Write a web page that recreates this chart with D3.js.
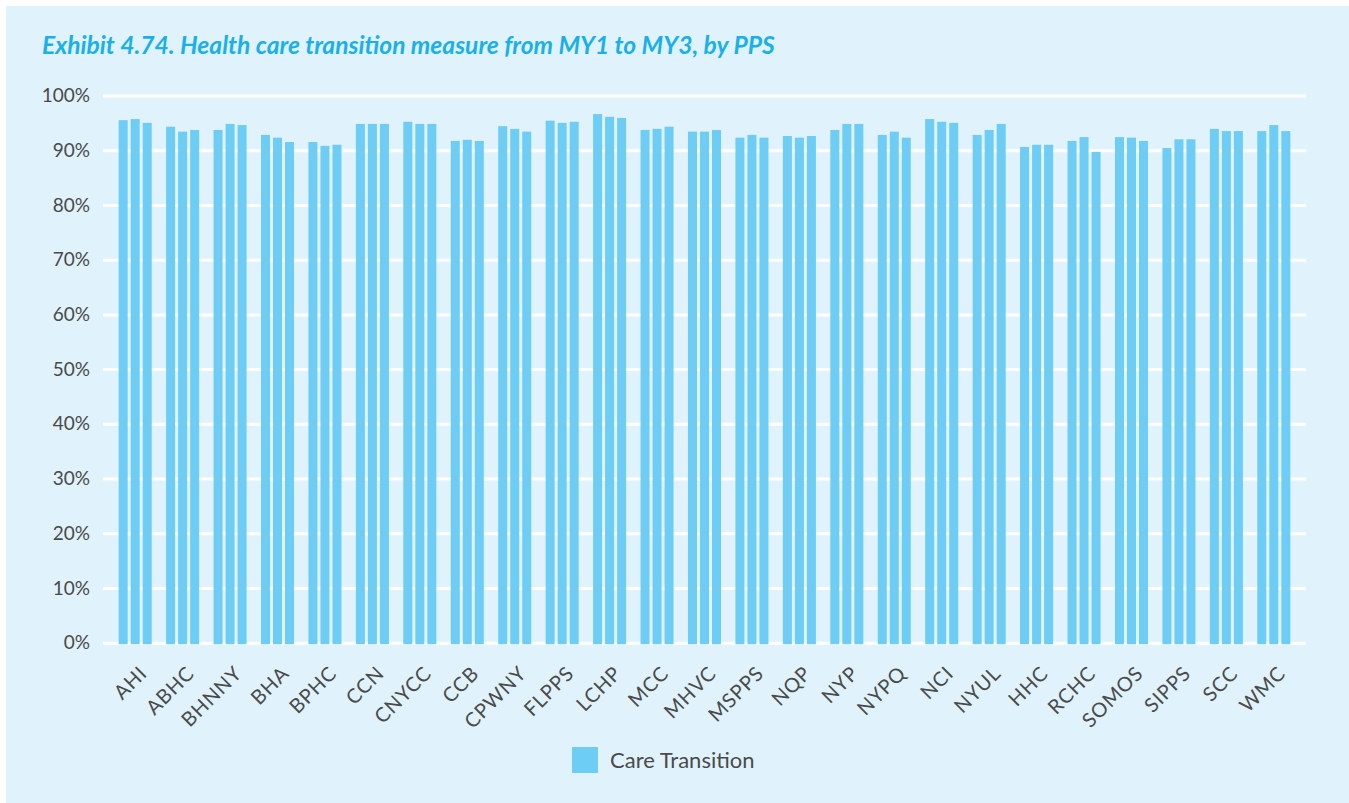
<!DOCTYPE html>
<html>
<head>
<meta charset="utf-8">
<script src="https://cdn.jsdelivr.net/npm/d3@7"></script>
<style>
  html, body { margin: 0; padding: 0; background: #ffffff; }
  svg { display: block; }
</style>
</head>
<body>
<svg id="chart" width="1349" height="803"></svg>
<script>
// PPS names along the x axis
const categories = ["AHI","ABHC","BHNNY","BHA","BPHC","CCN","CNYCC","CCB","CPWNY","FLPPS","LCHP","MCC","MHVC","MSPPS","NQP","NYP","NYPQ","NCI","NYUL","HHC","RCHC","SOMOS","SIPPS","SCC","WMC"];
// Care transition measure (%) for each measurement year
const my1 = [95.5,94.3,93.7,92.8,91.5,94.8,95.2,91.7,94.4,95.4,96.6,93.7,93.4,92.3,92.6,93.7,92.8,95.7,92.8,90.6,91.7,92.4,90.4,93.9,93.5];
const my2 = [95.7,93.4,94.8,92.3,90.8,94.8,94.8,91.9,93.9,95.0,96.1,93.9,93.4,92.8,92.3,94.8,93.4,95.2,93.7,91.0,92.4,92.3,92.0,93.5,94.6];
const my3 = [95.0,93.7,94.6,91.5,91.0,94.8,94.8,91.7,93.4,95.2,95.9,94.3,93.7,92.3,92.6,94.8,92.3,95.0,94.8,91.0,89.7,91.7,92.0,93.5,93.5];
const years = ["MY1","MY2","MY3"];
const yTicks = [0,10,20,30,40,50,60,70,80,90,100];
const titleText = "Exhibit 4.74. Health care transition measure from MY1 to MY3, by PPS";
const legendLabel = "Care Transition";

const series = [my1, my2, my3];
const rows = categories.map((c, i) => ({ name: c, values: years.map((y, k) => ({ year: y, value: series[k][i] })) }));

const BAR = "#6dcdf4";
const PANEL = "#e0f2fc";
const TEXT = "#4a4a4a";
const FONT = "Lato, 'Open Sans', sans-serif";

const svg = d3.select("#chart");

// light blue panel
svg.append("rect").attr("x", 6).attr("y", 6).attr("width", 1343).attr("height", 797).attr("fill", PANEL);

// title
const title = svg.append("text")
  .attr("x", 42).attr("y", 54)
  .attr("font-family", FONT).attr("font-weight", 700).attr("font-style", "italic")
  .attr("font-size", 20).attr("fill", "#1ab0e9")
  .text(titleText);
const tw = title.node().getComputedTextLength();
title.attr("font-size", 20 * 733 / tw);

const plot = { left: 103, right: 1306, top: 95.5, bottom: 642.7 };

const y = d3.scaleLinear().domain([0, 100]).range([plot.bottom, plot.top]);
const x0 = d3.scaleBand().domain(categories).range([plot.left, plot.right])
  .paddingInner(0.3034).paddingOuter(0.33);
const x1 = d3.scaleBand().domain(years).range([0, x0.bandwidth()]).paddingInner(0.25).paddingOuter(0);

// horizontal grid lines and percentage labels
const yAxis = d3.axisLeft(y).tickValues(yTicks).tickSize(-(plot.right - plot.left))
  .tickPadding(13).tickFormat(d => d + "%");
const yg = svg.append("g").attr("transform", `translate(${plot.left},0)`).call(yAxis);
yg.select(".domain").remove();
yg.selectAll(".tick line").attr("stroke", "#ffffff").attr("stroke-width", 3);
yg.selectAll(".tick text").attr("font-family", FONT).attr("font-size", 19).attr("fill", TEXT);

// grouped bars
const groups = svg.append("g").selectAll("g").data(rows).join("g")
  .attr("transform", d => `translate(${x0(d.name)},0)`);
groups.selectAll("rect").data(d => d.values).join("rect")
  .attr("x", d => x1(d.year))
  .attr("width", x1.bandwidth())
  .attr("y", d => y(d.value))
  .attr("height", d => y(0) - y(d.value) + 1.5)
  .attr("fill", BAR);

// rotated category labels
const xAxis = d3.axisBottom(x0).tickSize(0).tickPadding(0);
const xg = svg.append("g").attr("transform", `translate(0,${plot.bottom})`).call(xAxis);
xg.select(".domain").remove();
xg.selectAll(".tick text")
  .attr("font-family", FONT).attr("font-size", 20).attr("fill", TEXT)
  .attr("letter-spacing", 0.8)
  .attr("text-anchor", "end")
  .attr("dy", null)
  .attr("transform", "translate(13,32) rotate(-45)");

// legend
svg.append("rect").attr("x", 572).attr("y", 747).attr("width", 26).attr("height", 26).attr("fill", BAR);
svg.append("text").attr("x", 610).attr("y", 762)
  .attr("dominant-baseline", "middle")
  .attr("font-family", FONT).attr("font-size", 22).attr("fill", TEXT)
  .text(legendLabel);
</script>
</body>
</html>
